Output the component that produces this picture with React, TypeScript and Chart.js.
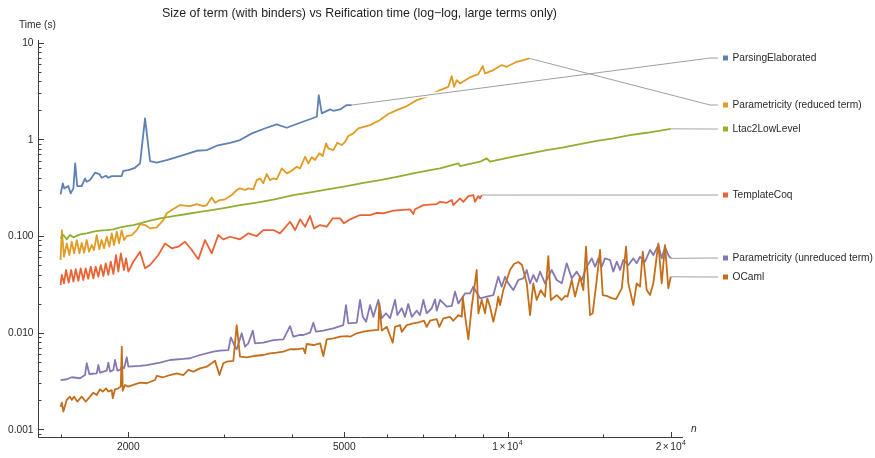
import React, { useEffect, useRef } from "react";
import { Chart, registerables } from "chart.js";

Chart.register(...registerables);

// ---------------- data (n = size of term, t = time in seconds) ----------------
const parsingN = [1500,1514,1524,1550,1566,1584,1596,1610,1641,1664,1676,1700,1736,1768,1786,1819,1837,1864,1944,1958,2000,2057,2102,2147,2193,2256,2354,2490,2674,2790,2911,3080,3213,3378,3598,3754,3918,4146,4451,4488,4546,4709,4774,4913,5054,5162];
const parsingT = [0.270,0.351,0.311,0.329,0.276,0.311,0.565,0.329,0.329,0.395,0.364,0.380,0.452,0.438,0.401,0.420,0.401,0.417,0.417,0.473,0.481,0.508,0.565,1.649,0.597,0.573,0.611,0.672,0.762,0.775,0.859,0.922,0.983,1.154,1.318,1.429,1.318,1.485,1.713,2.87,1.857,2.04,1.976,2.04,2.263,2.263];

const paramRedN = [1500,1508,1522,1540,1557,1573,1589,1607,1625,1641,1657,1676,1693,1712,1729,1749,1768,1786,1804,1825,1845,1864,1882,1904,1923,1944,1964,1987,2029,2073,2102,2147,2193,2256,2320,2354,2421,2490,2598,2674,2750,2790,2849,2890,2951,3015,3102,3168,3213,3282,3329,3400,3449,3498,3547,3598,3649,3702,3754,3836,3918,4002,4087,4146,4235,4294,4356,4417,4499,4564,4629,4674,4774,4856,4949,5018,5088,5198,5309,5580,5821,6030,6249,6522,6803,7096,7510,7780,7892,7970,8061,8174,8530,8836,9002,9090,9417,9757,9968,10398,10696,10972];
const paramRedT = [0.0565,0.115,0.0611,0.084,0.0636,0.0873,0.0662,0.0909,0.0662,0.0852,0.0672,0.0909,0.0688,0.0807,0.0717,0.1024,0.0729,0.0909,0.0746,0.0983,0.0775,0.1066,0.0807,0.1108,0.084,0.115,0.0909,0.1,0.1024,0.115,0.133,0.130,0.120,0.123,0.146,0.172,0.190,0.209,0.204,0.214,0.204,0.209,0.251,0.2207,0.2356,0.2395,0.2655,0.2993,0.311,0.2993,0.311,0.304,0.379,0.395,0.351,0.438,0.379,0.395,0.386,0.501,0.445,0.473,0.521,0.501,0.661,0.565,0.652,0.611,0.717,0.672,0.909,0.807,0.775,0.922,0.873,0.944,1.082,1.153,1.299,1.405,1.584,1.827,2.009,2.209,2.547,2.759,3.236,3.496,4.51,3.496,4.10,3.79,4.38,4.73,5.73,4.81,5.21,5.87,5.63,6.34,6.61,6.88];

const ltac2N = [1500,1518,1540,1561,1584,1629,1676,1724,1773,1825,1877,1931,1987,2043,2102,2193,2288,2421,2563,2711,2869,3036,3213,3449,3702,4029,4386,4774,5054,5424,5821,6249,6704,7197,7510,8116,8174,8900,9154,9285,10250,11004,11810,12676,13604,14604,15668,16822,18056,19376,20000];
const ltac2T = [0.0947,0.1024,0.0924,0.1024,0.0970,0.1041,0.1066,0.1108,0.1135,0.115,0.1173,0.123,0.1269,0.130,0.1353,0.144,0.1524,0.161,0.169,0.178,0.186,0.197,0.209,0.222,0.238,0.2655,0.287,0.311,0.329,0.355,0.379,0.410,0.445,0.481,0.501,0.565,0.530,0.587,0.636,0.587,0.661,0.717,0.775,0.827,0.894,0.967,1.024,1.108,1.17,1.248,1.287];

const templateN = [1500,1508,1522,1535,1553,1569,1584,1600,1618,1634,1652,1669,1687,1705,1724,1741,1761,1779,1799,1817,1837,1856,1877,1898,1917,1937,1963,1981,2000,2043,2102,2147,2193,2272,2337,2405,2472,2544,2618,2692,2770,2849,2930,2993,3080,3213,3329,3449,3547,3702,3807,3973,4059,4146,4235,4325,4398,4514,4643,4762,4913,4995,5127,5348,5580,5741,5902,6159,6612,6704,6754,6996,7406,7510,7726,7892,7944,8174,8290,8468,8650,8711,8836,8900,8962];
const templateT = [0.0311,0.0396,0.0324,0.0445,0.0329,0.0445,0.0337,0.0453,0.0345,0.0463,0.0351,0.0463,0.0362,0.0481,0.0365,0.0481,0.0380,0.0501,0.0386,0.0522,0.0396,0.0542,0.0405,0.0636,0.0428,0.0662,0.0445,0.0588,0.0428,0.0542,0.0688,0.0463,0.0501,0.0636,0.084,0.0746,0.0775,0.0873,0.0717,0.0574,0.0909,0.0662,0.1024,0.0924,0.0983,0.0924,0.1066,0.1,0.1153,0.1153,0.1066,0.1405,0.1153,0.1488,0.1248,0.161,0.120,0.130,0.1248,0.1524,0.1524,0.1353,0.1488,0.1649,0.1649,0.174,0.172,0.1827,0.189,0.169,0.189,0.209,0.214,0.226,0.2207,0.2356,0.209,0.245,0.226,0.259,0.2655,0.226,0.259,0.245,0.2655];

const paramUnredN = [1500,1540,1573,1629,1664,1676,1695,1749,1761,1773,1825,1837,1851,1877,1890,1909,1931,1945,1964,1987,2000,2102,2162,2288,2387,2526,2598,2711,2869,2951,3058,3090,3146,3168,3236,3282,3329,3392,3425,3547,3702,3862,3973,4029,4146,4205,4325,4386,4436,4576,4774,4980,5038,5088,5273,5348,5410,5487,5580,5658,5779,5864,5971,6074,6204,6266,6383,6471,6563,6659,6803,6898,6996,7096,7250,7352,7406,7510,7726,7892,8003,8116,8349,8530,8650,8900,9154,9417,9616,9757,9895,10034,10250,10470,10696,10850,11004,11156,11318,11480,11726,12064,12324,12588,12858,13134,13416,13706,13996,14300,14502,14708,14918,15120,15452,15668,15900,16124,16348,16700,17060,17300,17550,17926,18313,18570,18968,19242,19514,19788,20000];
const paramUnredT = [0.00324,0.00330,0.00346,0.00338,0.00365,0.00483,0.00374,0.00380,0.00463,0.00386,0.00405,0.00490,0.00396,0.00412,0.00522,0.00405,0.00412,0.00445,0.00428,0.00557,0.00445,0.00453,0.00463,0.00490,0.00522,0.00535,0.00544,0.00588,0.00636,0.00652,0.00662,0.00896,0.00717,0.00674,0.00986,0.00717,0.00777,0.0105,0.00777,0.00788,0.0084,0.00855,0.0117,0.00909,0.00947,0.00947,0.01,0.01269,0.01024,0.0105,0.0111,0.0120,0.0193,0.0125,0.01269,0.0218,0.0146,0.0130,0.0193,0.0146,0.0218,0.0141,0.0159,0.0141,0.0218,0.0152,0.0179,0.0146,0.0198,0.0146,0.0169,0.0152,0.0218,0.0159,0.0179,0.0221,0.0169,0.0218,0.0186,0.0189,0.0266,0.0201,0.0255,0.0255,0.0299,0.0227,0.0236,0.0245,0.0379,0.0299,0.0379,0.0324,0.0276,0.0351,0.0365,0.0445,0.0324,0.0395,0.0337,0.0428,0.0324,0.0445,0.0351,0.0324,0.0522,0.0365,0.0428,0.0351,0.0481,0.0587,0.0481,0.0587,0.0481,0.0587,0.0565,0.0428,0.0543,0.0445,0.0565,0.0501,0.0587,0.0522,0.0610,0.0543,0.0717,0.0636,0.0807,0.0587,0.0775,0.0636,0.0587];

const ocamlN = [1500,1508,1518,1540,1561,1573,1589,1610,1641,1669,1700,1724,1749,1773,1794,1819,1837,1864,1872,1890,1917,1937,1945,1953,1972,2000,2043,2102,2162,2240,2256,2320,2387,2456,2526,2580,2635,2711,2790,2849,2890,2944,2993,3036,3123,3168,3213,3307,3400,3547,3649,3754,3862,3973,4087,4203,4235,4264,4386,4514,4576,4643,4774,4913,5054,5127,5273,5424,5580,5779,5803,5864,5990,6144,6204,6336,6383,6522,6704,6898,7016,7096,7197,7406,7488,7614,7834,7944,8116,8236,8270,8349,8468,8591,8774,8836,8962,9090,9178,9285,9417,9552,9616,9688,9822,9968,10107,10280,10470,10636,10850,11004,11156,11318,11514,11726,11892,12020,12324,12588,12766,12900,13134,13320,13604,13796,13956,14092,14196,14356,14604,14810,14980,15236,15560,15850,16000,16240,16540,16700,17060,17300,17550,17756,18056,18313,18570,18968,19242,19514,19788,20000];
const ocamlT = [0.00172,0.00189,0.00153,0.00202,0.00218,0.00202,0.00218,0.00194,0.00218,0.00194,0.00218,0.00240,0.00227,0.00260,0.00246,0.00266,0.00246,0.00255,0.00210,0.00260,0.00266,0.00277,0.00717,0.00251,0.00288,0.00277,0.00288,0.00304,0.00300,0.00324,0.00357,0.00346,0.00365,0.00380,0.00365,0.00412,0.00396,0.00428,0.00445,0.00483,0.00513,0.00365,0.00483,0.00501,0.00510,0.0120,0.00565,0.00557,0.00574,0.00588,0.00612,0.00621,0.00636,0.00674,0.00674,0.00690,0.00612,0.00764,0.00746,0.00777,0.00574,0.00855,0.00875,0.00909,0.00924,0.00909,0.00986,0.01024,0.0105,0.0107,0.0201,0.0105,0.0115,0.00788,0.0115,0.0120,0.0102,0.0120,0.0125,0.0129,0.0133,0.0115,0.0133,0.0138,0.0115,0.0141,0.0146,0.0133,0.0152,0.0146,0.0236,0.0152,0.00855,0.0186,0.0445,0.0159,0.0218,0.0159,0.0227,0.0186,0.0130,0.0186,0.0236,0.0193,0.0276,0.0351,0.0445,0.0513,0.0538,0.0501,0.0324,0.0152,0.0324,0.0218,0.0276,0.0236,0.0620,0.0218,0.0245,0.0218,0.0240,0.0236,0.0351,0.0236,0.0379,0.0276,0.0775,0.0299,0.0152,0.0159,0.0351,0.0717,0.0245,0.0240,0.0228,0.0223,0.0245,0.0288,0.0775,0.0324,0.0193,0.0324,0.0299,0.0688,0.0276,0.0245,0.0324,0.0839,0.0324,0.0807,0.0288,0.0379];

const seriesLabels = [
  "ParsingElaborated",
  "Parametricity (reduced term)",
  "Ltac2LowLevel",
  "TemplateCoq",
  "Parametricity (unreduced term)",
  "OCaml",
];
const seriesN = [parsingN, paramRedN, ltac2N, templateN, paramUnredN, ocamlN];
const seriesT = [parsingT, paramRedT, ltac2T, templateT, paramUnredT, ocamlT];

// ticks
const yMajorTicks = [0.001, 0.01, 0.1, 1, 10];
const yMajorLabels = ["0.001", "0.010", "0.100", "1", "10"];
const yMinorTicks = [
  0.0009,
  0.002, 0.003, 0.004, 0.005, 0.006, 0.007, 0.008, 0.009,
  0.02, 0.03, 0.04, 0.05, 0.06, 0.07, 0.08, 0.09,
  0.2, 0.3, 0.4, 0.5, 0.6, 0.7, 0.8, 0.9,
  2, 3, 4, 5, 6, 7, 8, 9,
];
const xMajorTicks = [2000, 5000, 10000, 20000];
const xMajorLabels = ["2000", "5000", "1×10^4", "2×10^4"];
const xMinorTicks = [1500, 3000, 4000, 6000, 7000, 8000, 9000, 15000];

const TITLE = "Size of term (with binders) vs Reification time (log\u2212log, large terms only)";
const Y_TITLE = "Time (s)";
const X_TITLE = "n";

// ---------------- styles / layout ----------------
const COLORS = ["#5E81B5", "#E19C24", "#8FB032", "#EB6235", "#8778B3", "#C56E1A"];
const LABEL_Y = [58, 105, 129, 195, 258, 277];
const FONT = '"Liberation Sans", Arial, Helvetica, sans-serif';
const TEXT = "#2a2a2a";
const AXIS = "#3c3c3c";

const decorPlugin = {
  id: "mmaDecor",
  afterDatasetsDraw(chart: any) {
    const { ctx, chartArea: a, scales } = chart;
    const xs = scales.x;
    const ys = scales.y;
    ctx.save();

    // ---- callout leader lines ----
    const bendX = 710;
    const endX = 718;
    const leaders = seriesN.map((n, i) => {
      const last = n.length - 1;
      return {
        x0: xs.getPixelForValue(n[last]),
        y0: ys.getPixelForValue(seriesT[i][last]),
        ly: LABEL_Y[i],
      };
    });
    ctx.strokeStyle = "#ffffff";
    ctx.lineWidth = 4;
    leaders.forEach((L) => {
      const dx = bendX - L.x0;
      const dy = L.ly - L.y0;
      const len = Math.hypot(dx, dy) || 1;
      const sx = L.x0 + (dx / len) * 6;
      const sy = L.y0 + (dy / len) * 6;
      if (Math.abs(dy) > 3) {
        ctx.beginPath();
        ctx.moveTo(sx, sy);
        ctx.lineTo(bendX, L.ly);
        ctx.stroke();
      }
    });
    leaders.forEach((L, i) => {
      ctx.strokeStyle = i === 2 ? "#c4c4c4" : "#a0a0a0";
      ctx.lineWidth = i === 2 ? 1.6 : 1;
      ctx.beginPath();
      ctx.moveTo(L.x0, L.y0);
      ctx.lineTo(bendX, L.ly);
      ctx.lineTo(endX, L.ly);
      ctx.stroke();
    });

    // ---- legend labels ----
    ctx.font = `10.2px ${FONT}`;
    ctx.textBaseline = "middle";
    ctx.textAlign = "left";
    seriesLabels.forEach((lab, i) => {
      ctx.fillStyle = COLORS[i];
      ctx.fillRect(723, LABEL_Y[i] - 2.5, 5, 5);
      ctx.fillStyle = TEXT;
      ctx.fillText(lab, 732.5, LABEL_Y[i] + 0.5);
    });

    // ---- axes ----
    const left = Math.round(a.left) + 0.5;
    const bottom = Math.round(a.bottom) + 0.5;
    ctx.strokeStyle = AXIS;
    ctx.lineWidth = 1;
    ctx.beginPath();
    ctx.moveTo(left, a.top);
    ctx.lineTo(left, bottom);
    ctx.moveTo(left, bottom);
    ctx.lineTo(a.right, bottom);
    ctx.stroke();

    ctx.beginPath();
    yMajorTicks.forEach((v) => {
      const y = Math.round(ys.getPixelForValue(v)) + 0.5;
      ctx.moveTo(left, y);
      ctx.lineTo(left + 5.5, y);
    });
    yMinorTicks.forEach((v) => {
      const y = Math.round(ys.getPixelForValue(v)) + 0.5;
      ctx.moveTo(left, y);
      ctx.lineTo(left + 3, y);
    });
    xMajorTicks.forEach((v) => {
      const x = Math.round(xs.getPixelForValue(v)) + 0.5;
      ctx.moveTo(x, bottom);
      ctx.lineTo(x, bottom - 5.5);
    });
    xMinorTicks.forEach((v) => {
      const x = Math.round(xs.getPixelForValue(v)) + 0.5;
      ctx.moveTo(x, bottom);
      ctx.lineTo(x, bottom - 3);
    });
    ctx.stroke();

    // y tick labels
    ctx.fillStyle = TEXT;
    ctx.font = `10.2px ${FONT}`;
    ctx.textAlign = "right";
    ctx.textBaseline = "middle";
    yMajorTicks.forEach((v, i) => {
      ctx.fillText(yMajorLabels[i], left - 5, ys.getPixelForValue(v) + 0.5);
    });

    // x tick labels
    const ly = bottom + 10;
    xMajorTicks.forEach((v, i) => {
      const x = xs.getPixelForValue(v);
      const lab = xMajorLabels[i];
      if (lab.includes("^")) {
        const [base, exp] = lab.split("^");
        const [mant, ten] = base.split("×");
        ctx.font = `10.2px ${FONT}`;
        const wM = ctx.measureText(mant).width;
        const wX = ctx.measureText("×").width;
        const wT = ctx.measureText(ten).width;
        ctx.font = `7px ${FONT}`;
        const wE = ctx.measureText(exp).width;
        const gap = 1.5;
        const total = wM + gap + wX + gap + wT + wE + 0.5;
        let cx = x - total / 2;
        ctx.textAlign = "left";
        ctx.font = `10.2px ${FONT}`;
        ctx.fillText(mant, cx, ly);
        cx += wM + gap;
        ctx.fillText("×", cx, ly);
        cx += wX + gap;
        ctx.fillText(ten, cx, ly);
        cx += wT + 0.5;
        ctx.font = `7px ${FONT}`;
        ctx.fillText(exp, cx, ly - 4);
      } else {
        ctx.textAlign = "center";
        ctx.font = `10.2px ${FONT}`;
        ctx.fillText(lab, x, ly);
      }
    });

    // axis titles
    ctx.font = `10.2px ${FONT}`;
    ctx.textAlign = "left";
    ctx.fillText(Y_TITLE, 19, 25.5);
    ctx.font = `italic 10.2px ${FONT}`;
    ctx.fillText(X_TITLE, 691, 429);

    // title
    ctx.font = `12.4px ${FONT}`;
    ctx.textAlign = "center";
    ctx.fillStyle = "#1e1e1e";
    ctx.fillText(TITLE, 359.5, 14);

    ctx.restore();
  },
};

export default function App() {
  const canvasRef = useRef<HTMLCanvasElement | null>(null);

  useEffect(() => {
    const canvas = canvasRef.current;
    if (!canvas) return;
    const datasets = seriesLabels.map((label, i) => ({
      label,
      data: seriesN[i].map((n, j) => ({ x: n, y: seriesT[i][j] })),
      borderColor: COLORS[i],
      backgroundColor: COLORS[i],
      borderWidth: 1.8,
      borderJoinStyle: "round",
      pointRadius: 0,
      tension: 0,
      fill: false,
      order: seriesLabels.length - i,
    }));
    const chart = new Chart(canvas, {
      type: "line",
      data: { datasets },
      options: {
        animation: false,
        responsive: false,
        devicePixelRatio: 1,
        events: [],
        layout: { padding: { left: 38, top: 40, right: 192, bottom: 21 } },
        plugins: {
          legend: { display: false },
          title: { display: false },
          tooltip: { enabled: false },
        },
        scales: {
          x: { type: "logarithmic", min: 1363, max: 21062, display: false, bounds: "data" },
          y: { type: "logarithmic", min: 0.000834, max: 10.66, display: false, bounds: "data" },
        },
      } as any,
      plugins: [decorPlugin],
    });
    return () => chart.destroy();
  }, []);

  return (
    <div style={{ position: "absolute", left: 0, top: 0, width: 875, height: 458, background: "#ffffff" }}>
      <canvas ref={canvasRef} width={875} height={458} style={{ display: "block" }} />
    </div>
  );
}
